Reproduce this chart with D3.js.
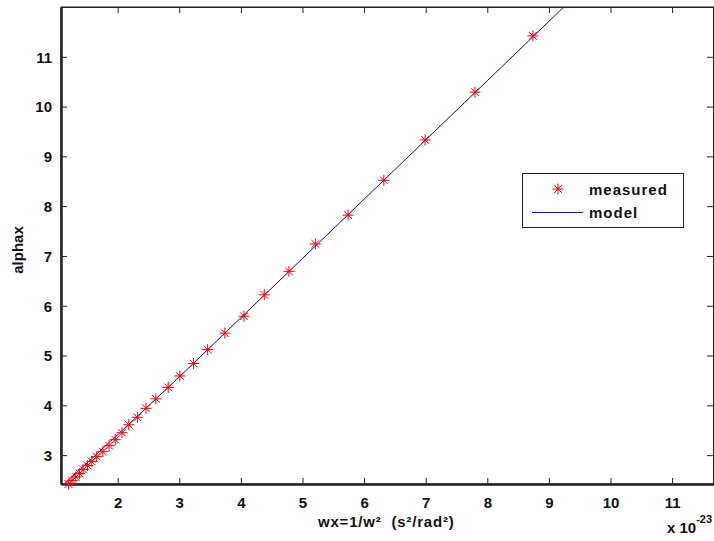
<!DOCTYPE html>
<html>
<head>
<meta charset="utf-8">
<script src="https://cdn.jsdelivr.net/npm/d3@7"></script>
<style>
  body { margin: 0; background: #fff; }
  svg { display: block; font-family: "Liberation Sans", Arial, sans-serif; font-weight: bold; }
</style>
</head>
<body>
<div id="chart"></div>
<script>
// measured points (wx in units of 1e-23, alphax)
const wxMeasured = [1.20, 1.26, 1.32, 1.38, 1.44, 1.51, 1.58, 1.66, 1.76, 1.86, 1.96, 2.07, 2.18, 2.32, 2.46,
                    2.62, 2.82, 3.01, 3.23, 3.46, 3.74, 4.05, 4.38, 4.78, 5.21, 5.74, 6.32, 6.99, 7.80, 8.74];
const alphaMeasured = [2.42, 2.49, 2.56, 2.63, 2.71, 2.79, 2.87, 2.97, 3.07, 3.19, 3.31, 3.45, 3.61, 3.76, 3.94,
                       4.13, 4.36, 4.59, 4.84, 5.12, 5.45, 5.79, 6.22, 6.69, 7.24, 7.82, 8.52, 9.33, 10.29, 11.42];
// model curve
const wxModel = [1.08, 2.0, 3.0, 4.0, 5.0, 6.0, 7.0, 8.0, 9.3];
const alphaModel = [2.36, 3.41, 4.57, 5.76, 6.95, 8.14, 9.33, 10.52, 12.07];

const xTicks = [2, 3, 4, 5, 6, 7, 8, 9, 10, 11];
const yTicks = [3, 4, 5, 6, 7, 8, 9, 10, 11];
const xDomain = [1.08, 11.68];
const yDomain = [2.42, 12.0];

const W = 714, H = 541;
const plot = { left: 61, right: 714, top: 7, bottom: 484 };

const svg = d3.select("#chart").append("svg")
    .attr("width", W)
    .attr("height", H);

const x = d3.scaleLinear().domain(xDomain).range([plot.left, plot.right]);
const y = d3.scaleLinear().domain(yDomain).range([plot.bottom, plot.top]);

svg.append("clipPath").attr("id", "clip")
  .append("rect")
    .attr("x", plot.left).attr("y", plot.top)
    .attr("width", plot.right - plot.left).attr("height", plot.bottom - plot.top);

// frame
svg.append("rect")
    .attr("x", plot.left).attr("y", plot.top)
    .attr("width", plot.right - plot.left).attr("height", plot.bottom - plot.top)
    .attr("fill", "none").attr("stroke", "#222").attr("stroke-width", 1);

// axes (bottom and left carry labels, top and right only ticks)
const tickLen = 6;
const xAxisB = svg.append("g").attr("transform", `translate(0,${plot.bottom})`)
    .call(d3.axisBottom(x).tickValues(xTicks).tickSizeInner(-tickLen).tickSizeOuter(0).tickPadding(13));
const xAxisT = svg.append("g").attr("transform", `translate(0,${plot.top})`)
    .call(d3.axisTop(x).tickValues(xTicks).tickSizeInner(-tickLen).tickSizeOuter(0).tickFormat(""));
const yAxisL = svg.append("g").attr("transform", `translate(${plot.left},0)`)
    .call(d3.axisLeft(y).tickValues(yTicks).tickSizeInner(-tickLen).tickSizeOuter(0).tickPadding(9));
const yAxisR = svg.append("g").attr("transform", `translate(${plot.right - 1},0)`)
    .call(d3.axisRight(y).tickValues(yTicks).tickSizeInner(-tickLen).tickSizeOuter(0).tickFormat(""));

[xAxisB, xAxisT, yAxisL, yAxisR].forEach(a => {
    a.select(".domain").attr("stroke", "#222");
    a.selectAll(".tick line").attr("stroke", "#222");
    a.selectAll("text").attr("fill", "#111").style("font-size", "15px").style("font-weight", "bold")
        .style("font-family", '"Liberation Sans", Arial, sans-serif');
});
xAxisB.select(".domain").attr("stroke-width", 2.5);
yAxisL.select(".domain").attr("stroke-width", 2.5);
yAxisL.selectAll("text").attr("dy", "0.36em");

// model line
const line = d3.line().x((d, i) => x(wxModel[i])).y(d => y(d));
svg.append("path")
    .datum(alphaModel)
    .attr("clip-path", "url(#clip)")
    .attr("d", line)
    .attr("fill", "none")
    .attr("stroke", "#0000ff")
    .attr("stroke-width", 1);

// asterisk marker
function star(sel, r) {
    const p = `M${-r},0L${r},0M0,${-r}L0,${r}` +
        `M${-r * 0.7},${-r * 0.7}L${r * 0.7},${r * 0.7}M${-r * 0.7},${r * 0.7}L${r * 0.7},${-r * 0.7}`;
    sel.append("path").attr("d", p).attr("stroke", "#ff0000").attr("stroke-width", 1).attr("fill", "none");
}

const pts = svg.append("g").selectAll("g")
    .data(alphaMeasured)
    .join("g")
    .attr("transform", (d, i) => `translate(${x(wxMeasured[i])},${y(d)})`);
pts.each(function () { star(d3.select(this), 5.5); });

// axis labels
svg.append("text")
    .attr("x", 318).attr("y", 527)
    .style("font-size", "15px").style("letter-spacing", "0.8px").style("white-space", "pre")
    .attr("fill", "#111")
    .text("wx=1/w\u00b2  (s\u00b2/rad\u00b2)");

svg.append("text")
    .attr("transform", "translate(23,250) rotate(-90)")
    .attr("text-anchor", "middle")
    .style("font-size", "15px").attr("fill", "#111")
    .text("alphax");

const mult = svg.append("text").attr("x", 667).attr("y", 533)
    .style("font-size", "15px").attr("fill", "#111");
mult.append("tspan").text("x 10");
mult.append("tspan").attr("dy", -10).style("font-size", "11px").text("-23");

// legend
const lg = svg.append("g");
lg.append("rect")
    .attr("x", 522.5).attr("y", 173.5).attr("width", 161).attr("height", 54)
    .attr("fill", "#fff").attr("stroke", "#222").attr("stroke-width", 1);
star(lg.append("g").attr("transform", "translate(558,189)"), 5.5);
lg.append("line").attr("x1", 532).attr("x2", 583).attr("y1", 212.5).attr("y2", 212.5)
    .attr("stroke", "#0000ff").attr("stroke-width", 1);
lg.append("text").attr("x", 589).attr("y", 195).style("font-size", "15px")
    .style("letter-spacing", "1px").attr("fill", "#111").text("measured");
lg.append("text").attr("x", 589).attr("y", 218).style("font-size", "15px")
    .style("letter-spacing", "1px").attr("fill", "#111").text("model");
</script>
</body>
</html>
